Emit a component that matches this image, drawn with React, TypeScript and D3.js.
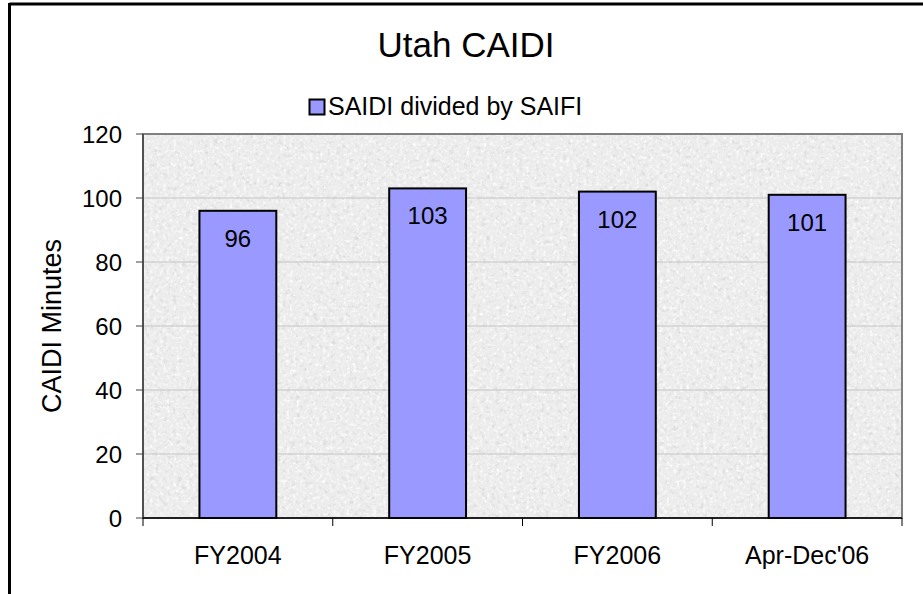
import * as React from "react";
import * as d3 from "d3";

const categories = ["FY2004", "FY2005", "FY2006", "Apr-Dec'06"];
const caidiValues = [96, 103, 102, 101];
const yTicks = [0, 20, 40, 60, 80, 100, 120];
const seriesName = "SAIDI divided by SAIFI";

const W = 923;
const H = 594;
const plot = { left: 143, right: 902, top: 134, bottom: 518 };
const font = "Arial, 'Liberation Sans', sans-serif";

export default function App() {
  const x = d3
    .scaleBand()
    .domain(categories)
    .range([plot.left, plot.right])
    .paddingInner(0.595)
    .paddingOuter(0.2975);

  const y = d3.scaleLinear().domain([0, 120]).range([plot.bottom, plot.top]);

  const step = x.step();
  const edges = d3.range(categories.length + 1).map((i) => plot.left + i * step);

  return (
    <svg
      width={W}
      height={H}
      style={{ position: "absolute", left: 0, top: 0, background: "#fff" }}
      fontFamily={font}
    >
      <defs>
        <filter id="granite" x="0" y="0" width="100%" height="100%">
          <feTurbulence type="fractalNoise" baseFrequency="0.22" numOctaves="3" seed="7" result="noise" />
          <feColorMatrix
            in="noise"
            type="matrix"
            values="0 0 0 0 0.6  0 0 0 0 0.6  0 0 0 0 0.6  1.7 0 0 0 -0.92"
          />
        </filter>
        <filter id="speck" x="0" y="0" width="100%" height="100%">
          <feTurbulence type="fractalNoise" baseFrequency="0.3" numOctaves="2" seed="19" result="noise" />
          <feColorMatrix
            in="noise"
            type="matrix"
            values="0 0 0 0 1  0 0 0 0 1  0 0 0 0 1  2.6 0 0 0 -1.3"
          />
        </filter>
      </defs>

      {/* outer chart border (only top and left show) */}
      <line x1={9.5} x2={W} y1={4} y2={4} stroke="#000" strokeWidth={3} />
      <line x1={9.5} x2={9.5} y1={3} y2={H} stroke="#000" strokeWidth={3} />

      <text x={466} y={57} textAnchor="middle" fontSize={35} fill="#000">
        Utah CAIDI
      </text>

      {/* legend */}
      <g transform="translate(309,99)">
        <rect x={0.5} y={0.5} width={15} height={15} fill="#9999ff" stroke="#000" strokeWidth={2} />
        <text x={19} y={15.5} fontSize={25} fill="#000">
          {seriesName}
        </text>
      </g>

      {/* plot background */}
      <rect
        x={plot.left}
        y={plot.top}
        width={plot.right - plot.left}
        height={plot.bottom - plot.top}
        fill="#ececec"
      />
      <rect
        x={plot.left}
        y={plot.top}
        width={plot.right - plot.left}
        height={plot.bottom - plot.top}
        fill="#fff"
        filter="url(#granite)"
      />
      <rect
        x={plot.left}
        y={plot.top}
        width={plot.right - plot.left}
        height={plot.bottom - plot.top}
        fill="#fff"
        filter="url(#speck)"
      />

      {/* gridlines */}
      {yTicks.slice(1).map((t) => (
        <line
          key={"g" + t}
          x1={plot.left}
          x2={plot.right}
          y1={y(t)}
          y2={y(t)}
          stroke="#c4c4c4"
          strokeWidth={1}
        />
      ))}

      <rect
        x={plot.left}
        y={plot.top}
        width={plot.right - plot.left}
        height={plot.bottom - plot.top}
        fill="none"
        stroke="#808080"
        strokeWidth={2}
      />

      {/* bars */}
      {categories.map((c, i) => (
        <g key={c}>
          <rect
            x={x(c)}
            y={y(caidiValues[i])}
            width={x.bandwidth()}
            height={plot.bottom - y(caidiValues[i])}
            fill="#9999ff"
            stroke="#000"
            strokeWidth={2}
          />
          <text
            x={(x(c) as number) + x.bandwidth() / 2}
            y={y(caidiValues[i]) + 36}
            textAnchor="middle"
            fontSize={24}
            fill="#000"
          >
            {caidiValues[i]}
          </text>
        </g>
      ))}

      {/* y axis */}
      <line x1={plot.left} x2={plot.left} y1={plot.top} y2={plot.bottom} stroke="#404040" strokeWidth={1.5} />
      {yTicks.map((t) => (
        <g key={"t" + t}>
          <line x1={plot.left - 7} x2={plot.left} y1={y(t)} y2={y(t)} stroke="#404040" strokeWidth={1} />
          <text x={122} y={y(t) + 8.5} textAnchor="end" fontSize={24} fill="#000">
            {t}
          </text>
        </g>
      ))}
      <text
        transform={`translate(61,${(plot.top + plot.bottom) / 2}) rotate(-90)`}
        textAnchor="middle"
        fontSize={27}
        fill="#000"
      >
        CAIDI Minutes
      </text>

      {/* x axis */}
      <line x1={plot.left} x2={plot.right} y1={plot.bottom} y2={plot.bottom} stroke="#000" strokeWidth={1.5} />
      {edges.map((ex, i) => (
        <line key={"xt" + i} x1={ex} x2={ex} y1={plot.bottom} y2={plot.bottom + 8} stroke="#000" strokeWidth={1} />
      ))}
      {categories.map((c) => (
        <text
          key={"l" + c}
          x={(x(c) as number) + x.bandwidth() / 2}
          y={564}
          textAnchor="middle"
          fontSize={25}
          fill="#000"
        >
          {c}
        </text>
      ))}
    </svg>
  );
}
